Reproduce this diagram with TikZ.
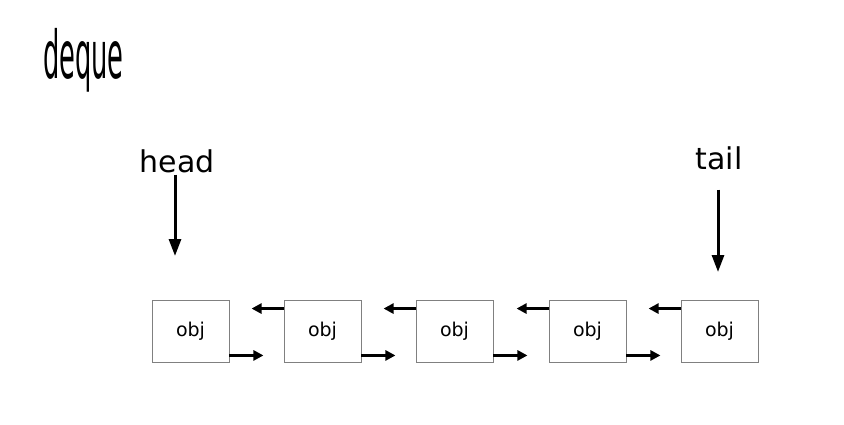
\documentclass[tikz,border=0pt]{standalone}
\usepackage{fontspec}
\setmainfont{DejaVu Sans}
\usetikzlibrary{arrows.meta}
\tikzset{
  objbox/.style={draw=gray, line width=0.9pt, minimum width=77pt, minimum height=62pt, inner sep=0pt, font=\fontsize{19}{22}\selectfont},
  link/.style={line width=2.8pt, -{Triangle[length=10pt,width=10pt]}},
  pointer/.style={line width=3pt, -{Triangle[length=17pt,width=12pt]}},
  label/.style={anchor=base, inner sep=0pt, font=\fontsize{30}{36}\selectfont}
}
\begin{document}
\begin{tikzpicture}[x=1pt, y=-1pt]
    \useasboundingbox (0,0) rectangle (844,425);

    % Title
    \node[anchor=base west, inner sep=0pt, xscale=0.39, font=\fontsize{66}{72}\selectfont] (title) at (43,79) {deque};

    % Objects
    \foreach \i/\x in {1/190.5, 2/322.5, 3/454.5, 4/587.5, 5/719.5}
        \node[objbox] (o\i) at (\x,331) {obj};

    % Links between objects
    \foreach \i [evaluate=\i as \j using int(\i+1)] in {1,...,4} {
        \draw[link] ([yshift=7pt]o\i.south east) -- ++(34,0);
        \draw[link] ([yshift=-9pt]o\j.north west) -- ++(-32,0);
    }

    % Head and tail pointers
    \node[label] (head) at (177,173) {head};
    \node[label] (tail) at (719,170) {tail};
    \coordinate (hp) at (175,256);
    \coordinate (tp) at (718,272);
    \draw[pointer] ([yshift=-1pt]head.south -| hp) -- (hp);
    \draw[pointer] ([yshift=-19pt]tail.south -| tp) -- (tp);
\end{tikzpicture}
\end{document}
